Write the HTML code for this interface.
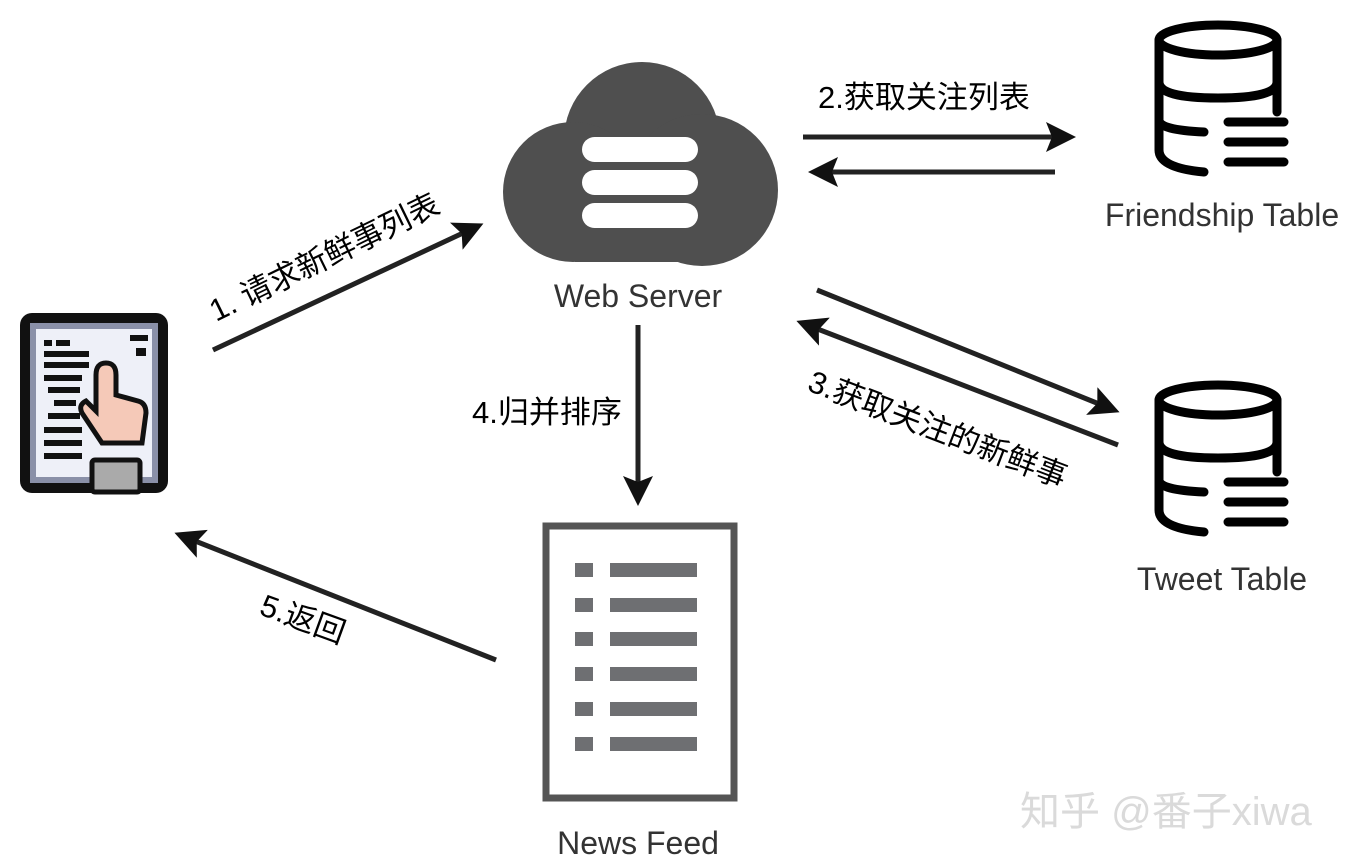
<!DOCTYPE html>
<html><head><meta charset="utf-8"><style>
html,body{margin:0;padding:0;background:#fff;width:1353px;height:866px;overflow:hidden}
text{font-family:"Liberation Sans","Noto Sans CJK SC",sans-serif}
</style></head><body>
<svg width="1353" height="866" viewBox="0 0 1353 866" xmlns="http://www.w3.org/2000/svg">
<defs>
<marker id="ah" viewBox="0 0 10 10" refX="8" refY="5" markerWidth="6" markerHeight="6" orient="auto" markerUnits="strokeWidth">
<path d="M0,0 L10,5 L0,10 L2,5 z" fill="#111"/></marker>
</defs>
<!-- tablet -->
<g>
<rect x="20" y="313" width="148" height="180" rx="12" fill="#111"/>
<rect x="30" y="323" width="128" height="160" fill="#8a90a8"/>
<rect x="36" y="329" width="116" height="148" fill="#eef0f8"/>
<rect x="44" y="340" width="8" height="6" fill="#111"/><rect x="56" y="340" width="14" height="6" fill="#111"/>
<rect x="44" y="351" width="45" height="6" fill="#111"/><rect x="44" y="362" width="45" height="6" fill="#111"/>
<path d="M44,378 h38 M48,390 h32 M54,403 h22 M48,416 h32 M44,430 h38 M44,443 h38 M44,456 h38" stroke="#111" stroke-width="6"/>
<rect x="130" y="335" width="18" height="6" fill="#111"/><rect x="136" y="348" width="10" height="8" fill="#111"/>
<path d="M96,375 q0,-12 10,-12 q10,0 10,12 v20 l22,6 q8,2 8,12 l-4,30 h-40 l-20,-30 q-4,-8 4,-12 l10,10 z" fill="#f5c9b8" stroke="#111" stroke-width="5"/>
<rect x="92" y="460" width="48" height="32" rx="3" fill="#aaa" stroke="#111" stroke-width="5"/>
</g>
<!-- cloud -->
<g fill="#4f4f4f">
<circle cx="642" cy="140" r="78"/>
<circle cx="702" cy="190" r="76"/>
<circle cx="573" cy="192" r="70"/>
<rect x="575" y="150" width="130" height="112"/>
</g>
<g fill="#fff">
<rect x="582" y="137" width="116" height="25" rx="12.5"/>
<rect x="582" y="170" width="116" height="25" rx="12.5"/>
<rect x="582" y="203" width="116" height="25" rx="12.5"/>
</g>
<text x="638" y="307" font-size="32" fill="#333" text-anchor="middle">Web Server</text>
<!-- databases -->
<g id="db" fill="none" stroke="#000" stroke-width="9" stroke-linecap="round">
<ellipse cx="1218" cy="40" rx="59" ry="15"/>
<path d="M1159,40 v110 q0,18 45,22"/>
<path d="M1277,40 v72"/>
<path d="M1159,82 q0,16 59,16 q59,0 59,-16"/>
<path d="M1159,120 q0,10 45,12"/>
<path d="M1228,122 h56 M1228,142 h56 M1228,162 h56"/>
</g>
<use href="#db" transform="translate(0,360)"/>
<text x="1222" y="226" font-size="32" fill="#333" text-anchor="middle">Friendship Table</text>
<text x="1222" y="590" font-size="32" fill="#333" text-anchor="middle">Tweet Table</text>
<!-- news feed -->
<rect x="546" y="526" width="188" height="272" fill="none" stroke="#555" stroke-width="7"/>
<g fill="#6e6f72">
<rect x="575" y="563" width="18" height="14"/><rect x="610" y="563" width="87" height="14"/>
<rect x="575" y="598" width="18" height="14"/><rect x="610" y="598" width="87" height="14"/>
<rect x="575" y="632" width="18" height="14"/><rect x="610" y="632" width="87" height="14"/>
<rect x="575" y="667" width="18" height="14"/><rect x="610" y="667" width="87" height="14"/>
<rect x="575" y="702" width="18" height="14"/><rect x="610" y="702" width="87" height="14"/>
<rect x="575" y="737" width="18" height="14"/><rect x="610" y="737" width="87" height="14"/>
</g>
<text x="638" y="854" font-size="32" fill="#333" text-anchor="middle">News Feed</text>
<!-- arrows -->
<g stroke="#222" stroke-width="5" marker-end="url(#ah)" fill="none">
<path d="M213,350 L478,226"/>
<path d="M803,137 L1070,137"/>
<path d="M1055,172 L814,172"/>
<path d="M817,290 L1114,410"/>
<path d="M1118,445 L802,323"/>
<path d="M638,325 L638,500"/>
<path d="M496,660 L180,535"/>
</g>
<g font-size="31" fill="#000">
<text transform="translate(216,322) rotate(-26)">1. 请求新鲜事列表</text>
<text x="818" y="108">2.获取关注列表</text>
<text transform="translate(806,390) rotate(21)">3.获取关注的新鲜事</text>
<text x="472" y="423">4.归并排序</text>
<text transform="translate(258,614) rotate(20)">5.返回</text>
</g>
<text x="1020" y="825" font-size="40" fill="#dadada">知乎 @番子xiwa</text>
</svg>
</body></html>
